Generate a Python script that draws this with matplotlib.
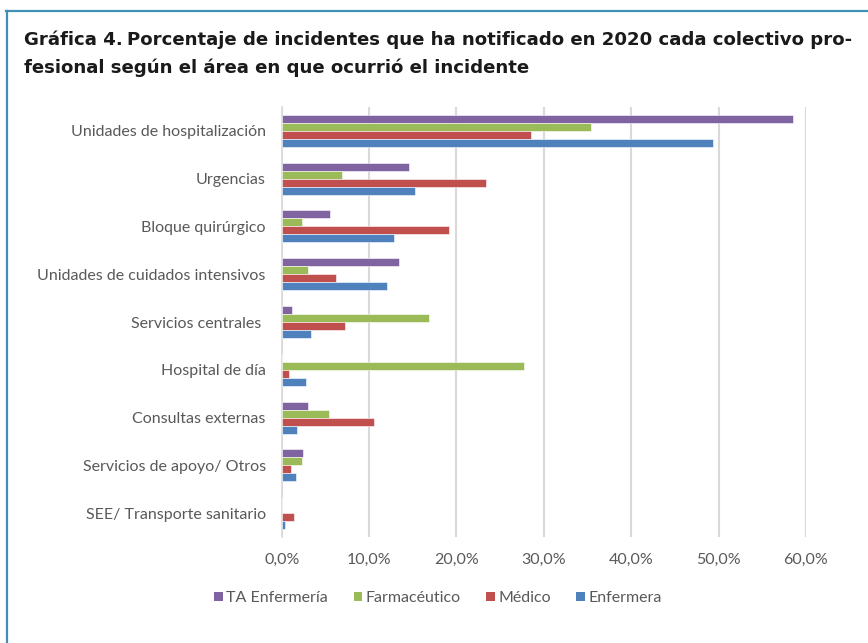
import matplotlib
matplotlib.use("Agg")
import matplotlib.pyplot as plt
from matplotlib.patches import Patch
from matplotlib.ticker import FuncFormatter
import numpy as np

categories = [
    "Unidades de hospitalización",
    "Urgencias",
    "Bloque quirúrgico",
    "Unidades de cuidados intensivos",
    "Servicios centrales ",
    "Hospital de día",
    "Consultas externas",
    "Servicios de apoyo/ Otros",
    "SEE/ Transporte sanitario",
]
series_names = ["TA Enfermería", "Farmacéutico", "Médico", "Enfermera"]
ta_enfermeria = [58.5, 14.6, 5.5, 13.4, 1.2, 0.0, 3.0, 2.4, 0.0]
farmaceutico = [35.4, 6.9, 2.3, 3.0, 16.9, 27.7, 5.4, 2.3, 0.0]
medico = [28.5, 23.4, 19.2, 6.2, 7.2, 0.8, 10.6, 1.1, 1.4]
enfermera = [49.4, 15.2, 12.8, 12.1, 3.4, 2.8, 1.7, 1.6, 0.4]
x_ticks = [0, 10, 20, 30, 40, 50, 60]

colors = ["#8064A2", "#9BBB59", "#C0504D", "#4F81BD"]
series = [ta_enfermeria, farmaceutico, medico, enfermera]
text_gray = "#595959"
frame_blue = "#3F8FB6"
label_font = ["Lato", "DejaVu Sans"]
W, H = 868, 643

fig = plt.figure(figsize=(W / 100, H / 100), dpi=100)

# Frame around the figure (top and left rules)
fig.add_artist(plt.Line2D([6 / W, 1.0], [1 - 10.5 / H] * 2, color=frame_blue, lw=1.6))
fig.add_artist(plt.Line2D([7 / W] * 2, [0, 1 - 10.5 / H], color=frame_blue, lw=1.6))

# Title, two lines; first line sized to span the frame width
title_font = ["DejaVu Sans"]
title_color = "#1a1a1a"
line1_head = "Gráfica 4."
line1_rest = "Porcentaje de incidentes que ha notificado en 2020 cada colectivo pro-"
line2 = "fesional según el área en que ocurrió el incidente"
x0, x_end = 24, 848
fs = 13.0
renderer = fig.canvas.get_renderer()
for _ in range(3):
    probe_a = fig.text(0, 0, line1_head, fontsize=fs, fontweight="heavy", family=title_font)
    probe_b = fig.text(0, 0, line1_rest, fontsize=fs, fontweight="bold", family=title_font)
    wa = probe_a.get_window_extent(renderer).width
    wb = probe_b.get_window_extent(renderer).width
    probe_a.remove()
    probe_b.remove()
    fs *= (x_end - x0) / (wa + wb + 0.3 * fs)

t1 = fig.text(x0 / W, 1 - 45 / H, line1_head, fontsize=fs, fontweight="heavy",
              family=title_font, color=title_color, va="baseline", ha="left")
wa = t1.get_window_extent(renderer).width
fig.text((x0 + wa + 0.3 * fs) / W, 1 - 45 / H, line1_rest, fontsize=fs, fontweight="bold",
         family=title_font, color=title_color, va="baseline", ha="left")
fig.text(x0 / W, 1 - 73 / H, line2, fontsize=fs, fontweight="bold", family=title_font,
         color=title_color, va="baseline", ha="left")

ax = fig.add_axes([281.7 / W, 1 - 537 / H, (806 - 281.7) / W, (537 - 107) / H])

y = np.arange(len(categories))
h = 0.167
offsets = [-1.5 * h, -0.5 * h, 0.5 * h, 1.5 * h]
for vals, col, off, name in zip(series, colors, offsets, series_names):
    ax.barh(y + off, vals, height=h, color=col, edgecolor="white", linewidth=0.4,
            label=name, zorder=3)

ax.set_ylim(len(categories) - 0.5, -0.5)
ax.set_xlim(0, 60)
ax.set_xticks(x_ticks)
ax.xaxis.set_major_formatter(FuncFormatter(lambda v, p: f"{v:.1f}%".replace(".", ",")))
ax.set_yticks(y)
ax.set_yticklabels(categories)
ax.tick_params(axis="both", length=0, colors=text_gray, labelsize=11.5)
ax.tick_params(axis="x", pad=11.5)
ax.tick_params(axis="y", pad=11.5)
for lab in ax.get_xticklabels() + ax.get_yticklabels():
    lab.set_family(label_font)
    lab.set_color(text_gray)

ax.grid(axis="x", color="#d9d9d9", lw=1.5, zorder=0)
for s in ["top", "right", "bottom"]:
    ax.spines[s].set_visible(False)
ax.spines["left"].set_color("#d9d9d9")
ax.spines["left"].set_linewidth(1.2)

handles = [Patch(facecolor=c, edgecolor="none") for c in colors]
fig.legend(handles, series_names, loc="center", bbox_to_anchor=(438 / W, 1 - 598 / H),
           ncol=4, frameon=False, handlelength=0.55, handleheight=0.55, handletextpad=0.2,
           columnspacing=1.6, prop={"family": label_font, "size": 11.5},
           labelcolor=text_gray)

fig.savefig("out.png", dpi=100)
